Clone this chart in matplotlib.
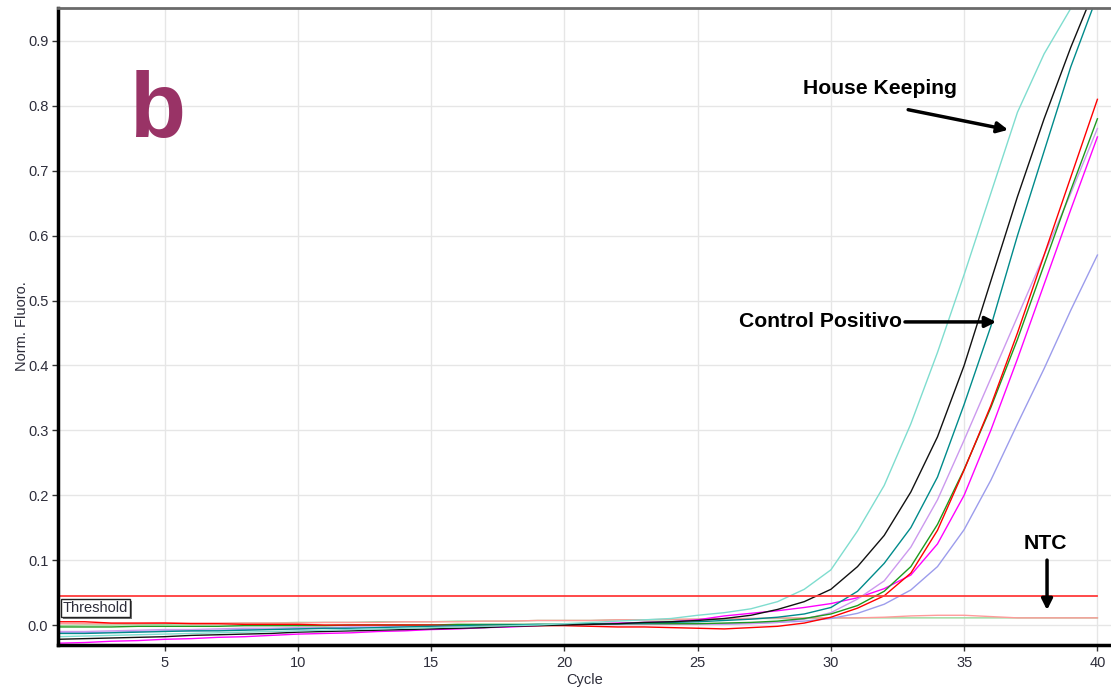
import matplotlib
matplotlib.use("Agg")
import matplotlib.pyplot as plt
import matplotlib.patheffects as pe
import numpy as np

plt.rcParams['font.family'] = ['Liberation Sans', 'DejaVu Sans']

cycles = list(range(1, 41))

aqua = [-0.018,-0.017,-0.016,-0.015,-0.014,-0.013,-0.012,-0.011,-0.010,-0.009,
        -0.008,-0.007,-0.006,-0.005,-0.004,-0.003,-0.002,-0.001,0.000,0.002,
        0.004,0.006,0.008,0.010,0.015,0.019,0.025,0.036,0.055,0.085,
        0.145,0.215,0.310,0.420,0.540,0.665,0.790,0.880,0.950,1.010]
black = [-0.022,-0.021,-0.020,-0.019,-0.018,-0.016,-0.015,-0.014,-0.013,-0.011,
         -0.010,-0.009,-0.008,-0.007,-0.006,-0.005,-0.004,-0.002,-0.001,0.000,
         0.001,0.002,0.004,0.005,0.007,0.010,0.015,0.024,0.036,0.055,
         0.090,0.138,0.205,0.290,0.400,0.530,0.660,0.780,0.890,0.990]
teal = [-0.013,-0.013,-0.012,-0.011,-0.010,-0.009,-0.009,-0.008,-0.007,-0.006,
        -0.005,-0.005,-0.004,-0.003,-0.002,-0.001,0.000,0.000,0.001,0.001,
        0.002,0.002,0.003,0.004,0.005,0.007,0.009,0.012,0.017,0.027,
        0.052,0.095,0.150,0.228,0.340,0.460,0.600,0.730,0.860,0.970]
lavender = [-0.010,-0.010,-0.009,-0.008,-0.007,-0.007,-0.006,-0.005,-0.005,-0.004,
            -0.004,-0.003,-0.003,-0.002,-0.002,-0.001,-0.001,0.000,0.000,0.001,
            0.001,0.001,0.001,0.001,0.001,0.001,0.002,0.004,0.009,0.019,
            0.040,0.068,0.120,0.193,0.285,0.380,0.475,0.570,0.665,0.765]
red = [0.005,0.005,0.003,0.003,0.003,0.002,0.002,0.001,0.001,0.001,
       0.000,0.000,0.000,0.000,0.000,-0.001,-0.001,-0.001,-0.001,-0.001,
       -0.002,-0.003,-0.003,-0.004,-0.005,-0.006,-0.004,-0.002,0.003,0.012,
       0.026,0.045,0.080,0.146,0.239,0.338,0.450,0.570,0.690,0.810]
green = [-0.003,-0.003,-0.003,-0.002,-0.002,-0.002,-0.002,-0.001,-0.001,-0.001,
         -0.001,0.000,0.000,0.000,0.000,0.001,0.001,0.001,0.001,0.001,
         0.002,0.002,0.002,0.002,0.002,0.003,0.004,0.006,0.010,0.017,
         0.030,0.052,0.090,0.155,0.240,0.335,0.440,0.555,0.670,0.780]
magenta = [-0.028,-0.027,-0.025,-0.024,-0.022,-0.021,-0.019,-0.018,-0.016,-0.014,
           -0.013,-0.012,-0.010,-0.009,-0.007,-0.006,-0.004,-0.003,-0.001,0.001,
           0.002,0.003,0.004,0.005,0.008,0.014,0.018,0.022,0.027,0.033,
           0.042,0.056,0.077,0.125,0.200,0.300,0.410,0.525,0.640,0.752]
purple = [-0.012,-0.012,-0.011,-0.010,-0.009,-0.009,-0.008,-0.007,-0.006,-0.006,
          -0.005,-0.004,-0.004,-0.003,-0.002,-0.002,-0.001,-0.001,0.000,0.000,
          0.001,0.001,0.001,0.002,0.002,0.002,0.003,0.004,0.006,0.010,
          0.018,0.032,0.054,0.090,0.147,0.223,0.310,0.395,0.485,0.570]
ntc_red = [0.002,0.002,0.002,0.002,0.003,0.003,0.003,0.003,0.003,0.003,
           0.004,0.004,0.004,0.005,0.005,0.005,0.006,0.006,0.007,0.007,
           0.007,0.008,0.008,0.009,0.009,0.010,0.010,0.011,0.011,0.011,
           0.011,0.012,0.014,0.015,0.015,0.013,0.011,0.011,0.011,0.011]
ntc_green = [-0.001,0.000,0.000,0.001,0.001,0.002,0.002,0.003,0.003,0.004,
             0.004,0.004,0.005,0.005,0.005,0.006,0.006,0.006,0.007,0.007,
             0.007,0.008,0.008,0.008,0.009,0.009,0.010,0.010,0.010,0.011,
             0.011,0.011,0.011,0.011,0.011,0.011,0.011,0.011,0.011,0.011]
threshold = 0.045

series = [
    (ntc_green, '#9ad89a'),
    (ntc_red, '#ff9a9a'),
    (purple, '#9c9cec'),
    (magenta, '#ff00ff'),
    (lavender, '#cc99ee'),
    (green, '#1e9a1e'),
    (red, '#ff0000'),
    (teal, '#008b8b'),
    (black, '#111111'),
    (aqua, '#7fddcf'),
]

fig = plt.figure(figsize=(11.11, 6.90), dpi=100)
ax = fig.add_axes([58/1111, 45/690, 1053/1111, 637/690])

for vals, col in series:
    ax.plot(cycles, vals, color=col, lw=1.0)

ax.plot([cycles[0], cycles[-1]], [threshold, threshold], color='#ff3b3b', lw=1.3)

ax.set_xlim(1, 40.51)
ax.set_ylim(-0.0308, 0.9507)
ax.set_xticks([5, 10, 15, 20, 25, 30, 35, 40])
ax.set_yticks([0.0, 0.1, 0.2, 0.3, 0.4, 0.5, 0.6, 0.7, 0.8, 0.9])
ax.set_yticklabels(['0.0', '0.1', '0.2', '0.3', '0.4', '0.5', '0.6', '0.7', '0.8', '0.9'])
ax.grid(True, color='#e6e6e6', lw=1.0)
ax.set_axisbelow(True)
ax.tick_params(axis='both', labelsize=10.5, labelcolor='#2d2d3a', color='#333333', length=4, width=1)
ax.tick_params(axis='y', pad=3)
ax.tick_params(axis='x', pad=4)

for s in ['left', 'bottom']:
    ax.spines[s].set_linewidth(2.5)
    ax.spines[s].set_color('black')
ax.spines['top'].set_linewidth(2)
ax.spines['top'].set_color('#6a6a6a')
ax.spines['right'].set_visible(False)

ax.set_xlabel('Cycle', fontsize=10.5, color='#2d2d3a', labelpad=2)
ax.set_ylabel('Norm. Fluoro.', fontsize=10.5, color='#2d2d3a', labelpad=-1)

# Threshold label box
thr = ax.text(1.19, 0.0262, 'Threshold', fontsize=10.5, color='#2d2d3a', va='center', ha='left',
              bbox=dict(boxstyle='square,pad=0.12', facecolor='white', edgecolor='#222222', lw=1.0))
thr.get_bbox_patch().set_path_effects([
    pe.SimplePatchShadow(offset=(1.5, -1.5), shadow_rgbFace='#555555', alpha=0.8), pe.Normal()])

# panel letter
ax.text(4.75, 0.752, 'b', fontsize=66, fontweight='bold', color='#993366', ha='center', va='baseline')

# annotations
arrow = dict(arrowstyle='-|>', lw=2.5, color='black', mutation_scale=16, shrinkA=0, shrinkB=0)
ax.text(28.95, 0.827, 'House Keeping', fontsize=15.2, fontweight='bold', ha='left', va='center')
ax.annotate('', xy=(36.65, 0.763), xytext=(32.9, 0.794), arrowprops=arrow)
ax.text(26.55, 0.467, 'Control Positivo', fontsize=15.2, fontweight='bold', ha='left', va='center')
ax.annotate('', xy=(36.2, 0.467), xytext=(32.78, 0.467), arrowprops=arrow)
ax.text(38.04, 0.126, 'NTC', fontsize=15.2, fontweight='bold', ha='center', va='center')
ax.annotate('', xy=(38.11, 0.023), xytext=(38.11, 0.1), arrowprops=arrow)

fig.savefig('out.png', dpi=100)
